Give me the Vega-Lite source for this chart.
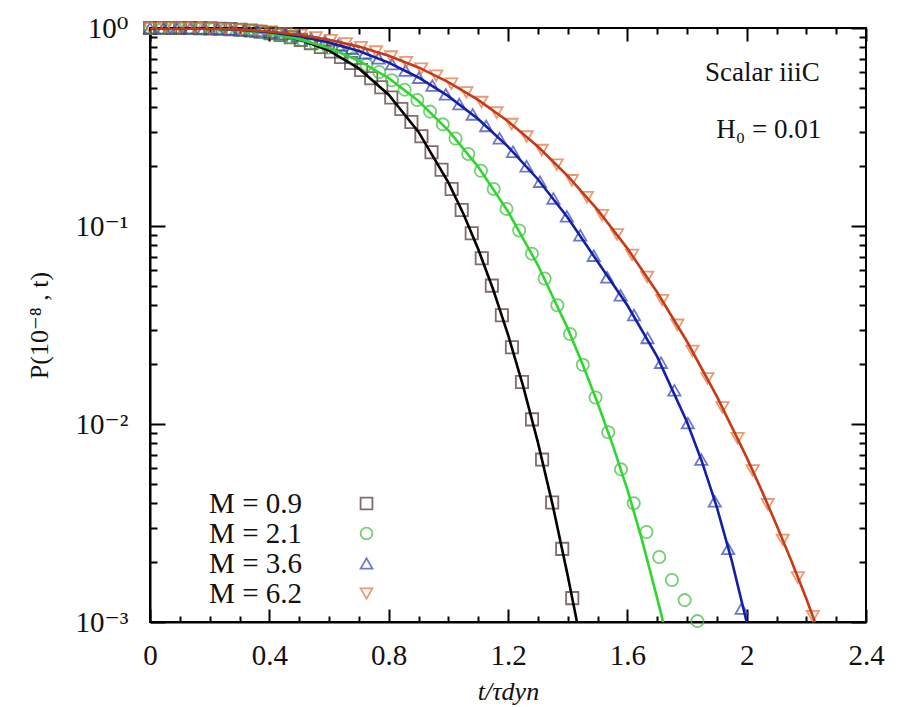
{
"$schema": "https://vega.github.io/schema/vega-lite/v6.json",
"width": 716, "height": 594,
"autosize": {"type": "none"},
"padding": {"left": 150, "top": 28, "right": 41, "bottom": 85},
"background": "white",
"config": {
  "view": {"stroke": "black", "strokeWidth": 2},
  "axis": {"grid": false, "domainColor": "black", "domainWidth": 2, "tickColor": "black", "tickWidth": 2,
           "labelFont": "Liberation Serif, Times New Roman, DejaVu Serif, serif", "labelFontSize": 29, "labelColor": "#111",
           "titleFont": "Liberation Serif, Times New Roman, DejaVu Serif, serif", "titleColor": "#111", "titleFontWeight": "normal",
           "labelFlush": false, "labelOverlap": false},
  "legend": {"orient": "none", "legendX": 202, "legendY": 461, "padding": 0,
             "labelFont": "Liberation Serif", "labelFontSize": 29, "labelColor": "#111",
             "labelAlign": "right", "labelOffset": -79, "symbolSize": 140, "symbolStrokeWidth": 1.8,
             "rowPadding": 0, "labelLimit": 300}
},
"datasets": {
"pts": [
{"series":"M = 0.9","t":0,"P":1},{"series":"M = 0.9","t":0.0337,"P":1},{"series":"M = 0.9","t":0.0674,"P":1},{"series":"M = 0.9","t":0.1011,"P":1},
{"series":"M = 0.9","t":0.1348,"P":0.999},{"series":"M = 0.9","t":0.1685,"P":0.998},{"series":"M = 0.9","t":0.2022,"P":0.9956},{"series":"M = 0.9","t":0.2359,"P":0.9922},
{"series":"M = 0.9","t":0.2696,"P":0.9871},{"series":"M = 0.9","t":0.3033,"P":0.98},{"series":"M = 0.9","t":0.337,"P":0.9704},{"series":"M = 0.9","t":0.3707,"P":0.9579},
{"series":"M = 0.9","t":0.4044,"P":0.9421},{"series":"M = 0.9","t":0.4381,"P":0.9225},{"series":"M = 0.9","t":0.4718,"P":0.8989},{"series":"M = 0.9","t":0.5055,"P":0.871},
{"series":"M = 0.9","t":0.5392,"P":0.8387},{"series":"M = 0.9","t":0.5729,"P":0.8017},{"series":"M = 0.9","t":0.6066,"P":0.7603},{"series":"M = 0.9","t":0.6403,"P":0.7145},
{"series":"M = 0.9","t":0.674,"P":0.6653},{"series":"M = 0.9","t":0.7077,"P":0.6129},{"series":"M = 0.9","t":0.7414,"P":0.558},{"series":"M = 0.9","t":0.7751,"P":0.5019},
{"series":"M = 0.9","t":0.8088,"P":0.4454},{"series":"M = 0.9","t":0.8425,"P":0.3896},{"series":"M = 0.9","t":0.8762,"P":0.3354},{"series":"M = 0.9","t":0.9099,"P":0.2839},
{"series":"M = 0.9","t":0.9436,"P":0.236},{"series":"M = 0.9","t":0.9773,"P":0.1925},{"series":"M = 0.9","t":1.011,"P":0.1539},{"series":"M = 0.9","t":1.0447,"P":0.1204},
{"series":"M = 0.9","t":1.0784,"P":0.092},{"series":"M = 0.9","t":1.1121,"P":0.0687},{"series":"M = 0.9","t":1.1458,"P":0.05},{"series":"M = 0.9","t":1.1795,"P":0.0354},
{"series":"M = 0.9","t":1.2132,"P":0.0244},{"series":"M = 0.9","t":1.2469,"P":0.01628},{"series":"M = 0.9","t":1.2806,"P":0.01055},{"series":"M = 0.9","t":1.3143,"P":0.00661},
{"series":"M = 0.9","t":1.348,"P":0.00401},{"series":"M = 0.9","t":1.3817,"P":0.00234},{"series":"M = 0.9","t":1.4154,"P":0.00132},
{"series":"M = 2.1","t":0,"P":1},{"series":"M = 2.1","t":0.0427,"P":1},{"series":"M = 2.1","t":0.0853,"P":0.9996},{"series":"M = 2.1","t":0.128,"P":0.9983},
{"series":"M = 2.1","t":0.1707,"P":0.9959},{"series":"M = 2.1","t":0.2134,"P":0.9916},{"series":"M = 2.1","t":0.256,"P":0.9849},{"series":"M = 2.1","t":0.2987,"P":0.9754},
{"series":"M = 2.1","t":0.3414,"P":0.9625},{"series":"M = 2.1","t":0.384,"P":0.9459},{"series":"M = 2.1","t":0.4267,"P":0.925},{"series":"M = 2.1","t":0.4694,"P":0.8995},
{"series":"M = 2.1","t":0.512,"P":0.8696},{"series":"M = 2.1","t":0.5547,"P":0.8348},{"series":"M = 2.1","t":0.5974,"P":0.7954},{"series":"M = 2.1","t":0.6401,"P":0.7516},
{"series":"M = 2.1","t":0.6827,"P":0.7041},{"series":"M = 2.1","t":0.7254,"P":0.653},{"series":"M = 2.1","t":0.7681,"P":0.5995},{"series":"M = 2.1","t":0.8107,"P":0.5441},
{"series":"M = 2.1","t":0.8534,"P":0.4882},{"series":"M = 2.1","t":0.8961,"P":0.4325},{"series":"M = 2.1","t":0.9387,"P":0.3782},{"series":"M = 2.1","t":0.9814,"P":0.3261},
{"series":"M = 2.1","t":1.0241,"P":0.2767},{"series":"M = 2.1","t":1.0668,"P":0.2312},{"series":"M = 2.1","t":1.1094,"P":0.1902},{"series":"M = 2.1","t":1.1521,"P":0.1537},
{"series":"M = 2.1","t":1.1948,"P":0.122},{"series":"M = 2.1","t":1.2374,"P":0.095},{"series":"M = 2.1","t":1.2801,"P":0.0725},{"series":"M = 2.1","t":1.3228,"P":0.0543},
{"series":"M = 2.1","t":1.3654,"P":0.0398},{"series":"M = 2.1","t":1.4081,"P":0.0285},{"series":"M = 2.1","t":1.4508,"P":0.0199},{"series":"M = 2.1","t":1.4934,"P":0.01362},
{"series":"M = 2.1","t":1.5361,"P":0.00908},{"series":"M = 2.1","t":1.5788,"P":0.0059},{"series":"M = 2.1","t":1.6214,"P":0.00398},{"series":"M = 2.1","t":1.6641,"P":0.00285},
{"series":"M = 2.1","t":1.7068,"P":0.00213},{"series":"M = 2.1","t":1.7494,"P":0.00163},{"series":"M = 2.1","t":1.7921,"P":0.00129},{"series":"M = 2.1","t":1.8348,"P":0.00101},
{"series":"M = 3.6","t":0,"P":1},{"series":"M = 3.6","t":0.0451,"P":1},{"series":"M = 3.6","t":0.0901,"P":0.9995},{"series":"M = 3.6","t":0.1352,"P":0.9982},
{"series":"M = 3.6","t":0.1803,"P":0.9957},{"series":"M = 3.6","t":0.2254,"P":0.9915},{"series":"M = 3.6","t":0.2704,"P":0.9852},{"series":"M = 3.6","t":0.3155,"P":0.9765},
{"series":"M = 3.6","t":0.3606,"P":0.965},{"series":"M = 3.6","t":0.4056,"P":0.9503},{"series":"M = 3.6","t":0.4507,"P":0.9322},{"series":"M = 3.6","t":0.4958,"P":0.9105},
{"series":"M = 3.6","t":0.5408,"P":0.8849},{"series":"M = 3.6","t":0.5859,"P":0.8556},{"series":"M = 3.6","t":0.631,"P":0.8226},{"series":"M = 3.6","t":0.6761,"P":0.7861},
{"series":"M = 3.6","t":0.7211,"P":0.7461},{"series":"M = 3.6","t":0.7662,"P":0.703},{"series":"M = 3.6","t":0.8113,"P":0.6575},{"series":"M = 3.6","t":0.8563,"P":0.6099},
{"series":"M = 3.6","t":0.9014,"P":0.5612},{"series":"M = 3.6","t":0.9465,"P":0.5117},{"series":"M = 3.6","t":0.9915,"P":0.4623},{"series":"M = 3.6","t":1.0366,"P":0.4133},
{"series":"M = 3.6","t":1.0817,"P":0.3659},{"series":"M = 3.6","t":1.1268,"P":0.3202},{"series":"M = 3.6","t":1.1718,"P":0.2773},{"series":"M = 3.6","t":1.2169,"P":0.2372},
{"series":"M = 3.6","t":1.262,"P":0.2004},{"series":"M = 3.6","t":1.307,"P":0.1674},{"series":"M = 3.6","t":1.3521,"P":0.1378},{"series":"M = 3.6","t":1.3972,"P":0.112},
{"series":"M = 3.6","t":1.4422,"P":0.0897},{"series":"M = 3.6","t":1.4873,"P":0.0708},{"series":"M = 3.6","t":1.5324,"P":0.0551},{"series":"M = 3.6","t":1.5775,"P":0.0447},
{"series":"M = 3.6","t":1.6225,"P":0.0355},{"series":"M = 3.6","t":1.6676,"P":0.0272},{"series":"M = 3.6","t":1.7127,"P":0.0204},{"series":"M = 3.6","t":1.7577,"P":0.0148},
{"series":"M = 3.6","t":1.8028,"P":0.0101},{"series":"M = 3.6","t":1.8479,"P":0.00661},{"series":"M = 3.6","t":1.893,"P":0.00407},{"series":"M = 3.6","t":1.938,"P":0.00234},
{"series":"M = 3.6","t":1.983,"P":0.00117},
{"series":"M = 6.2","t":0,"P":1},{"series":"M = 6.2","t":0.0505,"P":1},{"series":"M = 6.2","t":0.101,"P":0.9993},{"series":"M = 6.2","t":0.1515,"P":0.9978},
{"series":"M = 6.2","t":0.202,"P":0.9947},{"series":"M = 6.2","t":0.2525,"P":0.9898},{"series":"M = 6.2","t":0.303,"P":0.9825},{"series":"M = 6.2","t":0.3535,"P":0.9723},
{"series":"M = 6.2","t":0.404,"P":0.959},{"series":"M = 6.2","t":0.4545,"P":0.9422},{"series":"M = 6.2","t":0.505,"P":0.9218},{"series":"M = 6.2","t":0.5555,"P":0.8971},
{"series":"M = 6.2","t":0.606,"P":0.8688},{"series":"M = 6.2","t":0.6565,"P":0.8365},{"series":"M = 6.2","t":0.707,"P":0.8002},{"series":"M = 6.2","t":0.7575,"P":0.7603},
{"series":"M = 6.2","t":0.808,"P":0.7174},{"series":"M = 6.2","t":0.8585,"P":0.6714},{"series":"M = 6.2","t":0.909,"P":0.6232},{"series":"M = 6.2","t":0.9595,"P":0.5738},
{"series":"M = 6.2","t":1.01,"P":0.5233},{"series":"M = 6.2","t":1.0605,"P":0.4727},{"series":"M = 6.2","t":1.111,"P":0.4227},{"series":"M = 6.2","t":1.1615,"P":0.3741},
{"series":"M = 6.2","t":1.212,"P":0.3273},{"series":"M = 6.2","t":1.2625,"P":0.283},{"series":"M = 6.2","t":1.313,"P":0.2419},{"series":"M = 6.2","t":1.3635,"P":0.2042},
{"series":"M = 6.2","t":1.414,"P":0.1701},{"series":"M = 6.2","t":1.4645,"P":0.1399},{"series":"M = 6.2","t":1.515,"P":0.1134},{"series":"M = 6.2","t":1.5655,"P":0.0907},
{"series":"M = 6.2","t":1.616,"P":0.0714},{"series":"M = 6.2","t":1.6665,"P":0.0553},{"series":"M = 6.2","t":1.717,"P":0.0422},{"series":"M = 6.2","t":1.7675,"P":0.0317},
{"series":"M = 6.2","t":1.818,"P":0.0234},{"series":"M = 6.2","t":1.8685,"P":0.017},{"series":"M = 6.2","t":1.919,"P":0.01212},{"series":"M = 6.2","t":1.9695,"P":0.00848},
{"series":"M = 6.2","t":2.02,"P":0.00583},{"series":"M = 6.2","t":2.0705,"P":0.00393},{"series":"M = 6.2","t":2.121,"P":0.0026},{"series":"M = 6.2","t":2.1715,"P":0.00168},
{"series":"M = 6.2","t":2.222,"P":0.00107}
],
"fit": [
{"series":"M = 0.9","t":0,"P":1},{"series":"M = 0.9","t":0.1,"P":1},{"series":"M = 0.9","t":0.2,"P":0.996},{"series":"M = 0.9","t":0.3,"P":0.9808},{"series":"M = 0.9","t":0.4,"P":0.9444},
{"series":"M = 0.9","t":0.5,"P":0.8758},{"series":"M = 0.9","t":0.6,"P":0.7687},{"series":"M = 0.9","t":0.7,"P":0.625},{"series":"M = 0.9","t":0.8,"P":0.4603},{"series":"M = 0.9","t":0.9,"P":0.2986},
{"series":"M = 0.9","t":1.0,"P":0.166},{"series":"M = 0.9","t":1.05,"P":0.1156},{"series":"M = 0.9","t":1.1,"P":0.0765},{"series":"M = 0.9","t":1.15,"P":0.0479},{"series":"M = 0.9","t":1.2,"P":0.0283},
{"series":"M = 0.9","t":1.25,"P":0.01567},{"series":"M = 0.9","t":1.3,"P":0.0081},{"series":"M = 0.9","t":1.35,"P":0.00388},{"series":"M = 0.9","t":1.4,"P":0.00172},{"series":"M = 0.9","t":1.43,"P":0.00102},{"series":"M = 0.9","t":1.44,"P":0.00091},
{"series":"M = 2.1","t":0,"P":1},{"series":"M = 2.1","t":0.2,"P":0.9931},{"series":"M = 2.1","t":0.3,"P":0.975},{"series":"M = 2.1","t":0.4,"P":0.9386},{"series":"M = 2.1","t":0.5,"P":0.8786},
{"series":"M = 2.1","t":0.6,"P":0.7926},{"series":"M = 2.1","t":0.7,"P":0.6836},{"series":"M = 2.1","t":0.8,"P":0.5583},{"series":"M = 2.1","t":0.9,"P":0.4276},{"series":"M = 2.1","t":1.0,"P":0.3041},
{"series":"M = 2.1","t":1.1,"P":0.1989},{"series":"M = 2.1","t":1.2,"P":0.1184},{"series":"M = 2.1","t":1.3,"P":0.0635},{"series":"M = 2.1","t":1.4,"P":0.0304},{"series":"M = 2.1","t":1.45,"P":0.02005},
{"series":"M = 2.1","t":1.5,"P":0.01281},{"series":"M = 2.1","t":1.55,"P":0.00791},{"series":"M = 2.1","t":1.6,"P":0.00468},{"series":"M = 2.1","t":1.65,"P":0.00257},{"series":"M = 2.1","t":1.7,"P":0.00132},
{"series":"M = 2.1","t":1.72,"P":0.001},{"series":"M = 2.1","t":1.73,"P":0.00087},
{"series":"M = 3.6","t":0,"P":1},{"series":"M = 3.6","t":0.2,"P":0.9941},{"series":"M = 3.6","t":0.3,"P":0.9798},{"series":"M = 3.6","t":0.4,"P":0.9523},{"series":"M = 3.6","t":0.5,"P":0.9083},
{"series":"M = 3.6","t":0.6,"P":0.8456},{"series":"M = 3.6","t":0.7,"P":0.7651},{"series":"M = 3.6","t":0.8,"P":0.669},{"series":"M = 3.6","t":0.9,"P":0.5624},{"series":"M = 3.6","t":1.0,"P":0.4529},
{"series":"M = 3.6","t":1.1,"P":0.347},{"series":"M = 3.6","t":1.2,"P":0.2519},{"series":"M = 3.6","t":1.3,"P":0.1723},{"series":"M = 3.6","t":1.4,"P":0.1105},{"series":"M = 3.6","t":1.5,"P":0.0661},
{"series":"M = 3.6","t":1.6,"P":0.0398},{"series":"M = 3.6","t":1.7,"P":0.0219},{"series":"M = 3.6","t":1.8,"P":0.01023},{"series":"M = 3.6","t":1.85,"P":0.00646},{"series":"M = 3.6","t":1.9,"P":0.0038},
{"series":"M = 3.6","t":1.95,"P":0.00204},{"series":"M = 3.6","t":2.0,"P":0.001},{"series":"M = 3.6","t":2.01,"P":0.00085},
{"series":"M = 6.2","t":0,"P":1},{"series":"M = 6.2","t":0.2,"P":0.9949},{"series":"M = 6.2","t":0.3,"P":0.983},{"series":"M = 6.2","t":0.4,"P":0.9602},{"series":"M = 6.2","t":0.5,"P":0.924},
{"series":"M = 6.2","t":0.6,"P":0.8724},{"series":"M = 6.2","t":0.7,"P":0.8053},{"series":"M = 6.2","t":0.8,"P":0.7244},{"series":"M = 6.2","t":0.9,"P":0.6321},{"series":"M = 6.2","t":1.0,"P":0.5333},
{"series":"M = 6.2","t":1.1,"P":0.4335},{"series":"M = 6.2","t":1.2,"P":0.3381},{"series":"M = 6.2","t":1.3,"P":0.2522},{"series":"M = 6.2","t":1.4,"P":0.1793},{"series":"M = 6.2","t":1.5,"P":0.1209},
{"series":"M = 6.2","t":1.6,"P":0.0771},{"series":"M = 6.2","t":1.7,"P":0.0463},{"series":"M = 6.2","t":1.8,"P":0.0261},{"series":"M = 6.2","t":1.9,"P":0.01379},{"series":"M = 6.2","t":2.0,"P":0.00678},
{"series":"M = 6.2","t":2.05,"P":0.00462},{"series":"M = 6.2","t":2.1,"P":0.00309},{"series":"M = 6.2","t":2.15,"P":0.00203},{"series":"M = 6.2","t":2.2,"P":0.00131},{"series":"M = 6.2","t":2.25,"P":0.00082}
]
},
"layer": [
{
  "data": {"name": "pts"},
  "mark": {"type": "point", "filled": false, "strokeWidth": 1.8, "size": 150},
  "encoding": {
    "x": {"field": "t", "type": "quantitative", "scale": {"domain": [0, 2.4], "nice": false},
          "axis": {"orient": "bottom", "values": [0.1,0.2,0.3,0.5,0.6,0.7,0.9,1.0,1.1,1.3,1.4,1.5,1.7,1.8,1.9,2.1,2.2,2.3], "labels": false, "domain": false, "tickSize": -6, "title": null}},
    "y": {"field": "P", "type": "quantitative", "scale": {"type": "log", "domain": [0.001, 1], "nice": false},
          "axis": {"orient": "left", "values": [0.002,0.003,0.004,0.005,0.006,0.007,0.008,0.009,0.02,0.03,0.04,0.05,0.06,0.07,0.08,0.09,0.2,0.3,0.4,0.5,0.6,0.7,0.8,0.9], "labels": false, "domain": false, "tickSize": -7, "title": null}},
    "color": {"field": "series", "type": "nominal", "title": null,
              "scale": {"domain": ["M = 0.9","M = 2.1","M = 3.6","M = 6.2"], "range": ["#4e2e2e","#3dbb3d","#3040b8","#e0703a"]}},
    "shape": {"field": "series", "type": "nominal", "title": null,
              "scale": {"domain": ["M = 0.9","M = 2.1","M = 3.6","M = 6.2"], "range": ["square","circle","triangle-up","triangle-down"]}}
  }
},
{
  "data": {"name": "fit"},
  "mark": {"type": "line", "clip": true, "strokeWidth": 2.6},
  "encoding": {
    "x": {"field": "t", "type": "quantitative", "scale": {"domain": [0, 2.4], "nice": false},
          "axis": {"orient": "bottom", "values": [0,0.4,0.8,1.2,1.6,2,2.4], "format": "~g", "tickSize": -13, "labelPadding": 32,
                   "title": "t/τdyn", "titleFontSize": 26, "titleFontStyle": "italic", "titlePadding": 8}},
    "y": {"field": "P", "type": "quantitative", "scale": {"type": "log", "domain": [0.001, 1], "nice": false},
          "axis": {"orient": "left", "values": [1,0.1,0.01,0.001], "tickSize": -15, "labelPadding": 37,
                   "labelExpr": "datum.value >= 0.5 ? '10⁰' : datum.value >= 0.05 ? '10⁻¹' : datum.value >= 0.005 ? '10⁻²' : '10⁻³'",
                   "title": "P(10⁻⁸ , t)", "titleFontSize": 26, "titlePadding": 22}},
    "color": {"field": "series", "type": "nominal", "legend": null,
              "scale": {"domain": ["M = 0.9","M = 2.1","M = 3.6","M = 6.2"], "range": ["#000000","#2fd62f","#1020a8","#c83a14"]}}
  }
},
{
  "data": {"values": [{}]},
  "mark": {"type": "text", "align": "right", "baseline": "middle", "font": "Liberation Serif, Times New Roman, DejaVu Serif, serif", "fontSize": 27, "color": "#111"},
  "encoding": {
    "x": {"datum": 2.245, "type": "quantitative", "scale": {"domain": [0, 2.4], "nice": false},
          "axis": {"orient": "top", "values": [0,0.4,0.8,1.2,1.6,2,2.4], "labels": false, "domain": false, "tickSize": -13, "title": null}},
    "y": {"datum": 0.593, "type": "quantitative", "scale": {"type": "log", "domain": [0.001, 1], "nice": false},
          "axis": {"orient": "right", "values": [1,0.1,0.01,0.001], "labels": false, "domain": false, "tickSize": -15, "title": null}},
    "text": {"value": "Scalar iiiC"}
  }
},
{
  "data": {"values": [{}]},
  "mark": {"type": "text", "align": "right", "baseline": "middle", "font": "Liberation Serif, Times New Roman, DejaVu Serif, serif", "fontSize": 27, "color": "#111"},
  "encoding": {
    "x": {"datum": 2.25, "type": "quantitative", "scale": {"domain": [0, 2.4], "nice": false},
          "axis": {"orient": "top", "values": [0.1,0.2,0.3,0.5,0.6,0.7,0.9,1.0,1.1,1.3,1.4,1.5,1.7,1.8,1.9,2.1,2.2,2.3], "labels": false, "domain": false, "tickSize": -6, "title": null}},
    "y": {"datum": 0.305, "type": "quantitative", "scale": {"type": "log", "domain": [0.001, 1], "nice": false},
          "axis": {"orient": "right", "values": [0.002,0.003,0.004,0.005,0.006,0.007,0.008,0.009,0.02,0.03,0.04,0.05,0.06,0.07,0.08,0.09,0.2,0.3,0.4,0.5,0.6,0.7,0.8,0.9], "labels": false, "domain": false, "tickSize": -7, "title": null}},
    "text": {"value": "H₀ = 0.01"}
  }
}
],
"resolve": {"axis": {"x": "independent", "y": "independent"}, "scale": {"color": "independent", "shape": "independent"}, "legend": {"color": "independent", "shape": "independent"}}
}
